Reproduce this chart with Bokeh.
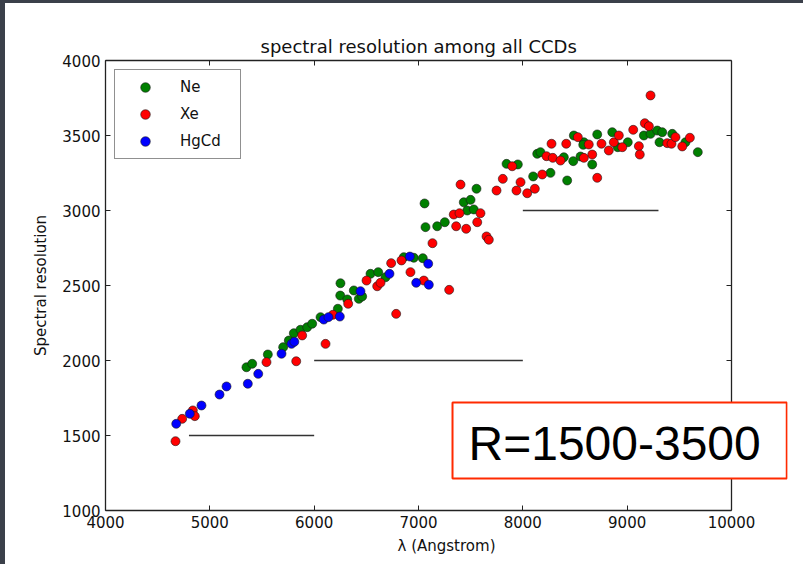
from bokeh.plotting import figure
from bokeh.models import (ColumnDataSource, FixedTicker, LinearAxis, Label, Legend,
                          LegendItem, Range1d, Column, CustomLabelingPolicy)
from bokeh.embed import file_html
from bokeh.resources import INLINE

# ---------------- data ----------------
ne_x = [5351, 5406, 5556, 5703, 5757, 5805, 5869, 5933, 5981, 6061, 6227, 6250, 6252,
        6317, 6380, 6428, 6460, 6540, 6614, 6684, 6859, 6955, 7041, 7058, 7067, 7179,
        7252, 7434, 7499, 7467, 7530, 7556, 7844, 7952, 8099, 8265, 8138, 8393, 8425,
        8483, 8553, 8665, 8585, 8169, 8489, 8579, 8713, 8857, 8910, 9006, 9160, 9224,
        9288, 9336, 9310, 9432, 9559, 9677]
ne_y = [1955, 1978, 2040, 2089, 2133, 2182, 2205, 2222, 2245, 2289, 2345, 2433, 2515,
        2407, 2467, 2411, 2427, 2578, 2589, 2555, 2689, 2685, 2682, 3047, 2889, 2895,
        2922, 3055, 3071, 3000, 3007, 3145, 3311, 3307, 3227, 3251, 3378, 3355, 3200,
        3329, 3360, 3307, 3455, 3389, 3500, 3438, 3507, 3522, 3422, 3455, 3500, 3511,
        3533, 3522, 3455, 3511, 3455, 3389]

xe_x = [4671, 4735, 4837, 4856, 5543, 5828, 5885, 6109, 6180, 6326, 6502, 6604, 6636,
        6738, 6837, 6923, 7051, 6786, 7134, 7294, 7361, 7457, 7563, 7403, 7338, 7393,
        7594, 7652, 7674, 7748, 7808, 7898, 7978, 7939, 8042, 8115, 8186, 8227, 8287,
        8361, 8275, 8416, 8632, 8665, 8713, 9224, 8527, 8585, 8754, 8824, 8872, 8920,
        8953, 9058, 9112, 9121, 9169, 9208, 9384, 9425, 9463, 9528, 9601]
xe_y = [1462, 1611, 1667, 1629, 1989, 1995, 2167, 2111, 2305, 2378, 2533, 2495, 2518,
        2649, 2667, 2589, 2533, 2311, 2782, 2471, 2895, 2878, 2922, 3173, 2973, 2982,
        2982, 2827, 2805, 3133, 3211, 3295, 3189, 3133, 3115, 3145, 3240, 3362, 3351,
        3333, 3445, 3445, 3440, 3373, 3218, 3767, 3489, 3351, 3445, 3400, 3455, 3500,
        3422, 3538, 3429, 3373, 3582, 3562, 3449, 3445, 3489, 3427, 3485]

hg_x = [4678, 4808, 4920, 5093, 5160, 5364, 5464, 5687, 5783, 5810, 6092, 6137, 6246,
        6444, 6722, 6917, 7093, 6978, 7099]
hg_y = [1578, 1645, 1700, 1773, 1827, 1845, 1911, 2045, 2111, 2125, 2273, 2289, 2293,
        2462, 2578, 2693, 2645, 2518, 2505]

series_names = ["Ne", "Xe", "HgCd"]

# resolution ranges per CCD
seg_x0 = [4800, 6000, 8000]
seg_x1 = [6000, 8000, 9300]
seg_y = [1500, 2000, 3000]

x_ticks = [4000, 5000, 6000, 7000, 8000, 9000, 10000]
y_ticks = [1000, 1500, 2000, 2500, 3000, 3500, 4000]

title_text = "spectral resolution among all CCDs"
x_label = "\u03bb (Angstrom)"
y_label = "Spectral resolution"
box_text = "R=1500-3500"

# ---------------- layout constants ----------------
AX = "#222222"
FONT = "DejaVu Sans"
AXES_W = 626          # pixel width of the axes box (4000..10000)
EXTRA_W = 56          # free drawing room right of the axes box for the overlay box
data_per_px = (x_ticks[-1] - x_ticks[0]) / AXES_W
x_end = x_ticks[-1] + EXTRA_W * data_per_px

p = figure(width=798, height=561, output_backend="svg", toolbar_location=None,
           x_range=Range1d(x_ticks[0], x_end), y_range=Range1d(y_ticks[0], y_ticks[-1]),
           min_border_left=100, min_border_right=798 - 100 - AXES_W - EXTRA_W,
           min_border_top=57, min_border_bottom=54,
           outline_line_color=None,
           title=title_text)
p.margin = (3, 0, 0, 5)
p.styles = {"background-color": "white"}
p.background_fill_color = "white"
p.border_fill_color = "white"
p.xgrid.visible = False
p.ygrid.visible = False

p.title.text_font = FONT
p.title.text_font_size = "18px"
p.title.text_font_style = "normal"
p.title.text_color = "#111111"
p.title.align = "left"
p.title.offset = 155
p.title.standoff = 0

no_labels = CustomLabelingPolicy(code="""
for (const i of Array.from(indices)) { indices.unset(i) }
return indices
""")


def style_axis(ax, ticks, show):
    ax.ticker = FixedTicker(ticks=ticks)
    ax.bounds = (ticks[0], ticks[-1])
    ax.major_tick_in = 5
    ax.major_tick_out = 0
    ax.minor_tick_in = 0
    ax.minor_tick_out = 0
    ax.axis_line_color = AX
    ax.axis_line_width = 1.3
    ax.major_tick_line_color = AX
    ax.major_tick_line_width = 1
    ax.major_label_text_font = FONT
    ax.major_label_text_color = "#111111"
    if show:
        ax.major_label_text_font_size = "15px"
        ax.major_label_standoff = 5
        ax.axis_label_text_font = FONT
        ax.axis_label_text_font_size = "15px"
        ax.axis_label_text_font_style = "normal"
        ax.axis_label_text_color = "#111111"
        ax.axis_label_standoff = 6
    else:
        ax.major_label_policy = no_labels
        ax.major_label_text_font_size = "1px"
        ax.major_label_standoff = 0


style_axis(p.xaxis[0], x_ticks, True)
style_axis(p.yaxis[0], y_ticks, True)
p.xaxis[0].axis_label = x_label
p.yaxis[0].axis_label = y_label
p.yaxis[0].axis_label_standoff = 9

top_ax = LinearAxis()
style_axis(top_ax, x_ticks, False)
p.add_layout(top_ax, "above")
right_ax = LinearAxis(fixed_location=x_ticks[-1])
style_axis(right_ax, y_ticks, False)
p.add_layout(right_ax, "right")

# horizontal range lines
seg_src = ColumnDataSource(dict(x0=seg_x0, x1=seg_x1, y=seg_y))
p.segment(x0="x0", y0="y", x1="x1", y1="y", source=seg_src, line_color="#333333", line_width=1.6)

# scatter series
colors = ["#008000", "#ff0000", "#0000ff"]
data = [(ne_x, ne_y), (xe_x, xe_y), (hg_x, hg_y)]
renderers = []
for (xs, ys), c in zip(data, colors):
    r = p.scatter(xs, ys, size=9, marker="circle", fill_color=c, line_color="#1a1a1a", line_width=0.6)
    renderers.append(r)

legend = Legend(items=[LegendItem(label=n, renderers=[r]) for n, r in zip(series_names, renderers)],
                location="top_left")
legend.margin = 9
legend.padding = 5
legend.spacing = 3
legend.glyph_height = 24
legend.glyph_width = 50
legend.label_height = 24
legend.label_standoff = 10
legend.label_width = 55
legend.border_line_color = AX
legend.border_line_width = 1.3
legend.background_fill_color = "white"
legend.background_fill_alpha = 1
legend.label_text_font = FONT
legend.label_text_font_size = "15px"
legend.label_text_color = "#111111"
p.add_layout(legend)

# annotation box
box = Label(x=7326, y=1720, text=box_text, anchor="top_left",
            text_font="Liberation Sans", text_font_size="48px", text_color="black",
            border_line_color="#ff2a00", border_line_width=2,
            background_fill_color="white", background_fill_alpha=1,
            padding=dict(left=16, right=26, top=14, bottom=9))
p.add_layout(box)

layout = Column(children=[p], styles={"background-color": "#3b404a"})

open("out.html", "w").write(file_html(layout, INLINE))
